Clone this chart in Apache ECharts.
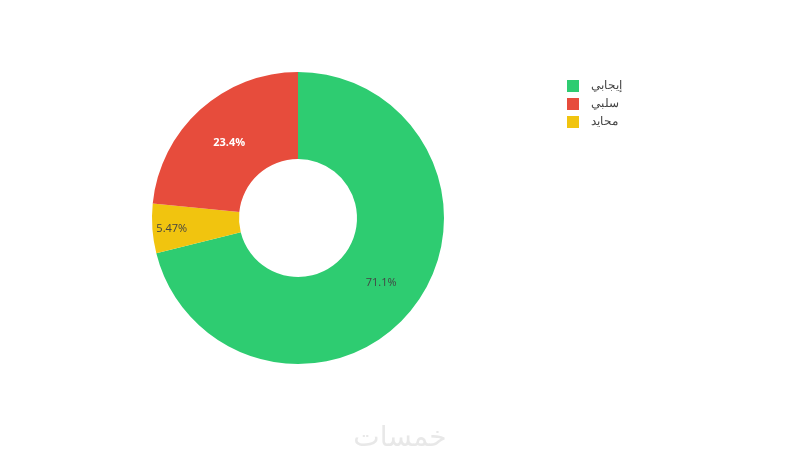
<!DOCTYPE html>
<html><head><meta charset="utf-8">
<script src="https://cdn.jsdelivr.net/npm/echarts@6/dist/echarts.min.js"></script>
<style>html,body{margin:0;padding:0;background:#fff}#c{width:800px;height:460px}</style>
</head><body><div id="c"></div>
<script>
const categories = ['إيجابي', 'محايد', 'سلبي'];
const values = [71.1, 5.47, 23.4];
const colors = ['#2ecc71', '#f1c40f', '#e74c3c'];
const legendOrder = ['إيجابي', 'سلبي', 'محايد'];
const labelColors = ['#444', '#444', '#fff'];

const chart = echarts.init(document.getElementById('c'));
chart.setOption({
  animation: false,
  color: colors,
  legend: {
    data: legendOrder,
    orient: 'vertical',
    left: 562, top: 75,
    itemWidth: 12, itemHeight: 12, itemGap: 6,
    icon: 'rect',
    textStyle: {fontFamily: 'Open Sans, sans-serif', fontSize: 12, color: '#444', padding: [0, 0, 0, 7]}
  },
  graphic: [{
    type: 'text', left: 'center', top: 424,
    style: {text: 'خمسات', fontSize: 28, fill: '#e8e8e8', fontFamily: 'Noto Sans, DejaVu Sans, sans-serif'}
  }],
  series: [{
    type: 'pie',
    center: [298, 218],
    radius: [59, 146],
    startAngle: 90,
    clockwise: true,
    avoidLabelOverlap: false,
    label: {
      show: true, position: 'inner',
      formatter: p => p.value + '%',
      fontFamily: 'Open Sans, sans-serif', fontSize: 11
    },
    labelLine: {show: false},
    labelLayout: function (p) {
      if (p.dataIndex === 1) return {dx: -21, dy: 3};
      if (p.dataIndex === 2) return {dx: 2, dy: 3};
      return {};
    },
    itemStyle: {borderWidth: 0},
    emphasis: {disabled: true},
    data: categories.map((n, i) => ({
      name: n, value: values[i],
      label: {color: labelColors[i], fontWeight: i === 2 ? 'bold' : 'normal'}
    }))
  }]
});
</script></body></html>
